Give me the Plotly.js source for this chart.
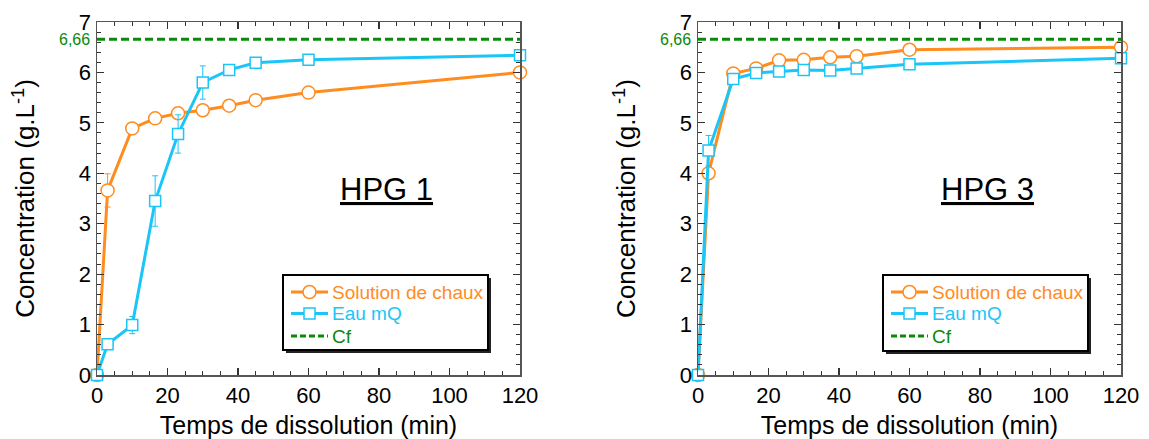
<!DOCTYPE html>
<html><head><meta charset="utf-8">
<script src="https://cdn.plot.ly/plotly-3.0.1.min.js"></script>
<style>html,body{margin:0;padding:0;background:#fff}</style>
</head><body><div id="chart" style="width:1149px;height:439px"></div>
<script>
// ---- data ----
const time = [0, 3, 10, 16.5, 23, 30, 37.5, 45, 60, 120];
const hpg1Chaux    = [0, 3.66, 4.89, 5.09, 5.19, 5.25, 5.34, 5.45, 5.60, 6.00];
const hpg1ChauxErr = [0, 0.33, 0.04, 0.04, 0.04, 0.04, 0.04, 0.04, 0.04, 0.04];
const hpg1Eau      = [0, 0.61, 0.99, 3.45, 4.78, 5.80, 6.05, 6.19, 6.25, 6.34];
const hpg1EauErr   = [0, 0.04, 0.17, 0.50, 0.38, 0.33, 0.08, 0.08, 0.05, 0.05];
const hpg3Chaux    = [0, 4.00, 5.98, 6.08, 6.24, 6.25, 6.30, 6.32, 6.45, 6.50];
const hpg3ChauxErr = [0, 0.05, 0.04, 0.04, 0.04, 0.04, 0.04, 0.04, 0.04, 0.04];
const hpg3Eau      = [0, 4.45, 5.87, 5.99, 6.02, 6.05, 6.04, 6.08, 6.16, 6.28];
const hpg3EauErr   = [0, 0.30, 0.05, 0.04, 0.04, 0.04, 0.04, 0.08, 0.04, 0.04];
const cfValue = 6.66;
const cfLabel = "6,66";
const cfX = [0, 120];
const xTicks = [0, 20, 40, 60, 80, 100, 120];
const yTicks = [0, 1, 2, 3, 4, 5, 6, 7];
const seriesNames = ["Solution de chaux", "Eau mQ", "Cf"];
const panelLabels = ["HPG 1", "HPG 3"];

// ---- styles ----
const ORANGE = "#FF8C1F", BLUE = "#1BC5F7", GREEN = "#0A8A0A";
const FONT = "Arial, 'Liberation Sans', sans-serif";
const W = 1149, H = 439, L = 97, R = 28, T = 22, B = 64;
const pw = W - L - R, ph = H - T - B;
const px2x = p => (p - L) / pw;
const px2y = p => (H - B - p) / ph;

function series(x, y, err, name, color, symbol, xa, ya) {
  return {
    x: x, y: y, type: "scatter", mode: "lines+markers", xaxis: xa, yaxis: ya, name: name,
    line: {color: color, width: 3},
    marker: {symbol: symbol, size: symbol === "square" ? 11 : 13, color: "#fff", line: {color: color, width: 1.5}},
    error_y: {type: "data", array: err, visible: true, color: color, thickness: 1, width: 3},
    cliponaxis: false
  };
}
function cfTrace(xa, ya) {
  return {
    x: cfX, y: [cfValue, cfValue], type: "scatter", mode: "lines", xaxis: xa, yaxis: ya, name: seriesNames[2],
    line: {color: GREEN, width: 3, dash: "8px,4px"}, cliponaxis: false
  };
}

const data = [
  series(time, hpg1Chaux, hpg1ChauxErr, seriesNames[0], ORANGE, "circle", "x", "y"),
  series(time, hpg1Eau, hpg1EauErr, seriesNames[1], BLUE, "square", "x", "y"),
  cfTrace("x", "y"),
  series(time, hpg3Chaux, hpg3ChauxErr, seriesNames[0], ORANGE, "circle", "x2", "y2"),
  series(time, hpg3Eau, hpg3EauErr, seriesNames[1], BLUE, "square", "x2", "y2"),
  cfTrace("x2", "y2")
];

const axisLine = "#555";
function xaxis(domain, anchor) {
  return {
    domain: domain, anchor: anchor, range: [0, 120], tickvals: xTicks,
    showline: true, linecolor: axisLine, linewidth: 1.5, mirror: "ticks",
    ticks: "inside", ticklen: 7, tickwidth: 1.2, tickcolor: "#333",
    minor: {dtick: 5, ticks: "inside", ticklen: 4, tickwidth: 1, tickcolor: "#333"},
    showgrid: false, zeroline: false,
    tickfont: {family: FONT, size: 22, color: "#000"},
    title: {text: "Temps de dissolution (min)", font: {family: FONT, size: 25, color: "#000"}, standoff: 10},
    automargin: false
  };
}
function yaxis(anchor) {
  return {
    domain: [0, 1], anchor: anchor, range: [0, 7], tickvals: yTicks,
    showline: true, linecolor: axisLine, linewidth: 1.5, mirror: "ticks",
    ticks: "inside", ticklen: 7, tickwidth: 1.2, tickcolor: "#333",
    minor: {dtick: 0.2, ticks: "inside", ticklen: 4, tickwidth: 1, tickcolor: "#333"},
    showgrid: false, zeroline: false,
    tickfont: {family: FONT, size: 22, color: "#000"},
    title: {text: "Concentration (g.L<sup>-1</sup>)", font: {family: FONT, size: 26, color: "#000"}, standoff: 36},
    automargin: false
  };
}

const dom1 = [0, px2x(520)], dom2 = [px2x(698), 1];

// Framed legend box with drop shadow, drawn in pixel positions
function legendBox(x0p, x1p, y0p, y1p, lineX0, lineX1, textX, rows) {
  const s = [
    {type: "rect", xref: "paper", yref: "paper", x0: px2x(x0p + 3), x1: px2x(x1p + 3), y0: px2y(y1p + 3), y1: px2y(y0p + 3),
     fillcolor: "#222", line: {width: 0}, layer: "above"},
    {type: "rect", xref: "paper", yref: "paper", x0: px2x(x0p), x1: px2x(x1p), y0: px2y(y1p), y1: px2y(y0p),
     fillcolor: "#fff", line: {color: "#000", width: 2}, layer: "above"}
  ];
  const a = [];
  const mx = (lineX0 + lineX1) / 2;
  const spec = [
    {c: ORANGE, m: "circle", dash: "solid"},
    {c: BLUE, m: "square", dash: "solid"},
    {c: GREEN, m: null, dash: "6px,3px"}
  ];
  spec.forEach((sp, i) => {
    const yy = rows[i];
    s.push({type: "line", xref: "paper", yref: "paper", x0: px2x(lineX0), x1: px2x(lineX1), y0: px2y(yy), y1: px2y(yy),
            line: {color: sp.c, width: 3, dash: sp.dash}, layer: "above"});
    if (sp.m) {
      const r = sp.m === "circle" ? 6.5 : 5.5;
      s.push({type: sp.m === "circle" ? "circle" : "rect", xref: "paper", yref: "paper",
              x0: px2x(mx - r), x1: px2x(mx + r), y0: px2y(yy + r), y1: px2y(yy - r),
              fillcolor: "#fff", line: {color: sp.c, width: 1.5}, layer: "above"});
    }
    a.push({xref: "paper", yref: "paper", x: px2x(textX), y: px2y(yy), xanchor: "left", yanchor: "middle",
            showarrow: false, text: seriesNames[i], font: {family: FONT, size: 19, color: sp.c}});
  });
  return {shapes: s, annotations: a};
}
const lg1 = legendBox(283, 488, 275, 350, 291, 328, 330, [292, 313.5, 336]);
const lg2 = legendBox(883, 1088, 275, 351, 891, 928, 930, [292, 313.5, 336]);

const layout = {
  width: W, height: H, margin: {l: L, r: R, t: T, b: B},
  paper_bgcolor: "#fff", plot_bgcolor: "#fff",
  font: {family: FONT, color: "#000"},
  xaxis: xaxis(dom1, "y"), yaxis: yaxis("x"),
  xaxis2: xaxis(dom2, "y2"), yaxis2: yaxis("x2"),
  showlegend: false,
  shapes: [].concat(lg1.shapes, lg2.shapes),
  annotations: [
    {xref: "x domain", yref: "y", x: 0, y: cfValue, xanchor: "right", yanchor: "middle", xshift: -5, showarrow: false,
     text: cfLabel, font: {family: FONT, size: 16, color: GREEN}},
    {xref: "x2 domain", yref: "y2", x: 0, y: cfValue, xanchor: "right", yanchor: "middle", xshift: -5, showarrow: false,
     text: cfLabel, font: {family: FONT, size: 16, color: GREEN}},
    {xref: "x", yref: "y", x: 82, y: 3.67, showarrow: false, text: "<u>" + panelLabels[0] + "</u>",
     font: {family: FONT, size: 31, color: "#000"}},
    {xref: "x2", yref: "y2", x: 82, y: 3.67, showarrow: false, text: "<u>" + panelLabels[1] + "</u>",
     font: {family: FONT, size: 31, color: "#000"}}
  ].concat(lg1.annotations, lg2.annotations)
};

Plotly.newPlot("chart", data, layout, {staticPlot: true, displayModeBar: false});
</script>
</body></html>
